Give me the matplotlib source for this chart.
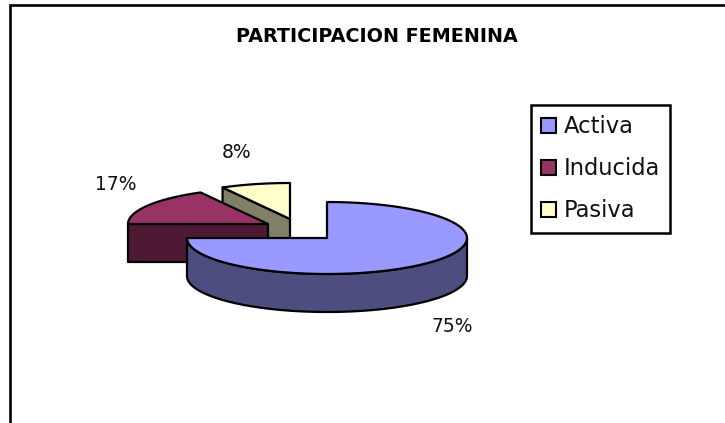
import matplotlib
matplotlib.use("Agg")
import matplotlib.pyplot as plt
import numpy as np
from matplotlib.patches import Patch, Polygon

TITLE = "PARTICIPACION FEMENINA"
LABELS = ["Activa", "Inducida", "Pasiva"]
VALUES = [75, 17, 8]
PCT_TEXT = ["75%", "17%", "8%"]

TOP_COLORS = ["#9999ff", "#993366", "#ffffcc"]
SIDE_COLORS = ["#4d4d80", "#4d1933", "#808066"]
INK = "#000000"

# pie geometry, in pixels of the 725x423 picture
RX, RY, DEPTH = 140, 36, 38
APEX = [(327, 238), (268, 224), (290, 219)]
LABEL_POS = [(452, 327), (116, 185), (237, 153)]


def rim(apex, start, end):
    # angles in degrees clockwise from 12 o'clock
    t = np.radians(np.linspace(start, end, 90))
    return np.column_stack([apex[0] + RX * np.sin(t), apex[1] - RY * np.cos(t)])


def draw_slice(ax, apex, start, end, top, side):
    edge = rim(apex, start, end)
    lw = 1.6
    # outer wall, only the part of the rim facing the viewer
    lo, hi = max(start, 90), min(end, 270)
    if lo < hi:
        front = rim(apex, lo, hi)
        wall = np.vstack([front, front[::-1] + [0, DEPTH]])
        ax.add_patch(Polygon(wall, facecolor=side, edgecolor=INK, lw=lw, joinstyle="round"))
    # cut wall at the start of the slice shows only on the left half
    if 180 < start < 360:
        p = edge[0]
        pts = [apex, p, p + [0, DEPTH], (apex[0], apex[1] + DEPTH)]
        ax.add_patch(Polygon(pts, facecolor=side, edgecolor=INK, lw=lw, joinstyle="round"))
    ax.add_patch(Polygon(np.vstack([[apex], edge]), facecolor=top, edgecolor=INK,
                         lw=lw, joinstyle="round"))


fig = plt.figure(figsize=(7.25, 4.23), dpi=100, facecolor="white")
ax = fig.add_axes([0, 0, 1, 1])
ax.set_xlim(0, 725)
ax.set_ylim(423, 0)
ax.axis("off")

# chart frame runs off the right and bottom of the picture
ax.plot([10.5, 10.5, 725], [423, 5.5, 5.5], color=INK, lw=1.9, solid_joinstyle="miter")

ax.text(377, 37, TITLE, ha="center", va="center", fontsize=13.8, fontweight="bold", color=INK)

# cumulative angles, drawn back to front
total = sum(VALUES)
edges = np.cumsum([0] + VALUES) / total * 360
for i in (2, 1, 0):
    draw_slice(ax, APEX[i], edges[i], edges[i + 1], TOP_COLORS[i], SIDE_COLORS[i])

for text, (x, y) in zip(PCT_TEXT, LABEL_POS):
    ax.text(x, y, text, ha="center", va="center", fontsize=13.5, color="#111111")

handles = [Patch(facecolor=c, edgecolor=INK, lw=1.5) for c in TOP_COLORS]
leg = ax.legend(handles, LABELS, loc="upper left", bbox_to_anchor=(531 / 725, 1 - 105 / 423),
                fontsize=16.3, fancybox=False, edgecolor=INK, framealpha=1,
                handlelength=0.66, handleheight=0.66, handletextpad=0.33,
                labelspacing=0.84, borderpad=0.46, borderaxespad=0, labelcolor="#111111")
leg.get_frame().set_linewidth(1.8)

fig.savefig("out.png", dpi=100, facecolor="white")
